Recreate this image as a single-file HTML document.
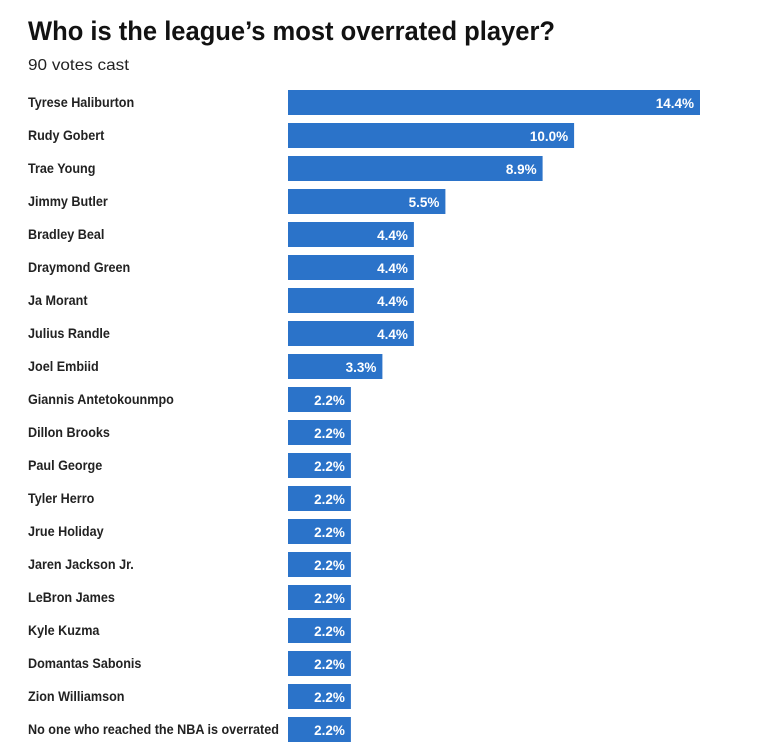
<!DOCTYPE html>
<html><head><meta charset="utf-8"><style>
body{margin:0;background:#fff;width:768px;height:747px;overflow:hidden}
svg{display:block}
text{font-family:"Liberation Sans Narrow","Liberation Sans",sans-serif}
</style></head><body>
<svg width="768" height="747" xmlns="http://www.w3.org/2000/svg">
<text x="28" y="40" font-size="27" font-weight="bold" fill="#121212" textLength="527" lengthAdjust="spacingAndGlyphs">Who is the league’s most overrated player?</text>
<text x="28" y="70" font-size="16" fill="#222" textLength="101" lengthAdjust="spacingAndGlyphs">90 votes cast</text>
<g id="lab" transform="translate(28,0) scale(0.935,1)"></g>
<g id="rows"></g>
</svg>
<script>
var d=[["Tyrese Haliburton",14.4],["Rudy Gobert",10.0],["Trae Young",8.9],["Jimmy Butler",5.5],["Bradley Beal",4.4],["Draymond Green",4.4],["Ja Morant",4.4],["Julius Randle",4.4],["Joel Embiid",3.3],["Giannis Antetokounmpo",2.2],["Dillon Brooks",2.2],["Paul George",2.2],["Tyler Herro",2.2],["Jrue Holiday",2.2],["Jaren Jackson Jr.",2.2],["LeBron James",2.2],["Kyle Kuzma",2.2],["Domantas Sabonis",2.2],["Zion Williamson",2.2],["No one who reached the NBA is overrated",2.2]];
var g=document.getElementById("rows"),l=document.getElementById("lab"),s="",t="";
d.forEach(function(r,i){var y=90+i*33,w=r[1]*28.61;
t+='<text x="0" y="'+(y+17)+'" font-size="13.5" font-weight="bold" fill="#222">'+r[0]+'</text>';
s+='<rect x="288" y="'+y+'" width="'+w.toFixed(1)+'" height="25" fill="#2b73c9"/>';
s+='<text x="'+(288+w-6).toFixed(1)+'" y="'+(y+18)+'" font-size="13.5" font-weight="bold" fill="#fff" text-anchor="end">'+r[1].toFixed(1)+'%</text>';});
g.innerHTML=s;l.innerHTML=t;
</script>
</body></html>
